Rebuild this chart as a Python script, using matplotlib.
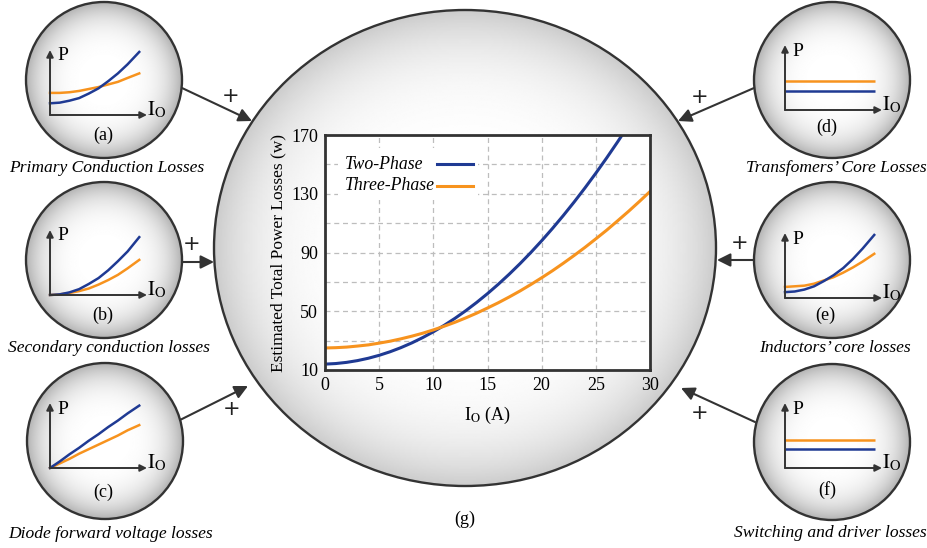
import numpy as np
import matplotlib
matplotlib.use('Agg')
import matplotlib.pyplot as plt
from matplotlib.patches import Ellipse, Rectangle

plt.rcParams['font.family'] = 'Liberation Serif'
plt.rcParams['mathtext.fontset'] = 'stix'

# main chart: estimated total power losses (W) vs output current (A)
io_two = list(range(0, 29))
two_phase = [14.0, 14.4, 15.2, 16.4, 18.0, 20.0, 22.4, 25.2, 28.4, 32.0,
             36.0, 40.4, 45.2, 50.4, 56.0, 62.0, 68.4, 75.2, 82.4, 90.0,
             98.0, 106.4, 115.2, 124.4, 134.0, 144.0, 154.4, 165.2, 176.4]
io_three = list(range(0, 31))
three_phase = [25.0, 25.2, 25.6, 26.3, 27.1, 28.3, 29.6, 31.2, 33.0, 35.0,
               37.3, 39.8, 42.5, 45.5, 48.7, 52.2, 55.8, 59.7, 63.8, 68.2,
               72.8, 77.6, 82.7, 88.0, 93.5, 99.3, 105.2, 111.5, 117.9, 124.6,
               131.5]
series_names = ['Two-Phase', 'Three-Phase']
x_ticks = [0, 5, 10, 15, 20, 25, 30]
y_ticks = [10, 50, 90, 130, 170]
y_minor = [30, 70, 110, 150]

# small sketch charts (normalised shapes)
mini_x = [0, .1, .2, .3, .4, .5, .6, .7, .8, .92]
a_blue = [.18, .19, .22, .26, .33, .41, .52, .64, .78, .97]
a_orange = [.34, .34, .35, .37, .40, .43, .47, .51, .57, .64]
b_blue = [0, .01, .04, .09, .17, .26, .38, .52, .67, .89]
b_orange = [0, .01, .03, .06, .10, .16, .23, .31, .41, .54]
c_blue = [0, .10, .21, .31, .42, .52, .63, .73, .84, .96]
c_orange = [0, .07, .14, .22, .29, .36, .43, .50, .58, .66]
e_blue = [.09, .10, .13, .18, .26, .35, .46, .60, .76, .97]
e_orange = [.17, .18, .19, .22, .27, .32, .39, .47, .56, .68]
d_levels = [.30, .45]   # blue, orange
f_levels = [.29, .43]

captions = ['Primary Conduction Losses', 'Secondary conduction losses',
            'Diode forward voltage losses', 'Transfomers\u2019 Core Losses',
            'Inductors\u2019 core losses', 'Switching and driver losses']
tags = ['(a)', '(b)', '(c)', '(d)', '(e)', '(f)']

BLUE = '#1f3a93'
ORANGE = '#f7931e'
DARK = '#333333'
W, H = 928, 548

fig = plt.figure(figsize=(W / 100, H / 100), dpi=100)
bg = fig.add_axes([0, 0, 1, 1])
bg.axis('off')


def px_axes(x0, y0, w, h):
    # x0, y0 = lower-left corner in picture pixels (y from the top)
    return fig.add_axes([x0 / W, 1 - y0 / H, w / W, h / H])


def shaded_circle(cx, cy, rx, ry, depth, power):
    yy, xx = np.mgrid[-1:1:300j, -1:1:300j]
    r = np.clip(np.sqrt(xx ** 2 + yy ** 2), 0, 1)
    img = 1 - depth * r ** power
    im = bg.imshow(img, cmap='gray', vmin=0, vmax=1, aspect='auto',
                   extent=(cx - rx, cx + rx, cy + ry, cy - ry),
                   interpolation='bilinear')
    e = Ellipse((cx, cy), 2 * rx, 2 * ry, fc='none', ec=DARK, lw=1.7)
    bg.add_patch(e)
    im.set_clip_path(e)


# circles
shaded_circle(465, 248, 251, 238, 0.20, 5)
centers = [(104, 80), (104, 260), (105, 441), (832, 80), (832, 260), (832, 442)]
for cx, cy in centers:
    shaded_circle(cx, cy, 78, 78, 0.30, 4)

# arrows into the big circle
arrows = [((182, 88), (252, 121)), ((182, 262), (214, 262)), ((180, 420), (248, 386)),
          ((754, 88), (678, 121)), ((754, 260), (717, 260)), ((755, 422), (681, 388))]
for start, tip in arrows:
    bg.annotate('', xy=tip, xytext=start,
                arrowprops=dict(arrowstyle='-|>', color=DARK, lw=1.5,
                                mutation_scale=20, shrinkA=0, shrinkB=0))
for px, py in [(231, 96), (192, 244), (232, 409), (700, 97), (740, 243), (700, 413)]:
    bg.text(px, py, '+', fontsize=15, ha='center', va='center', color='#222222',
            family='DejaVu Sans')

# mini sketch charts
origins = [(50, 115), (50, 295), (50, 468), (785, 110), (785, 298), (785, 468)]
tag_pos = [(103, 135), (103, 315), (103, 492), (827, 127), (825, 315), (827, 490)]
curves = [(a_blue, a_orange), (b_blue, b_orange), (c_blue, c_orange),
          None, (e_blue, e_orange), None]
levels = [None, None, None, d_levels, None, f_levels]
for i, (x0, y0) in enumerate(origins):
    m = px_axes(x0, y0, 97, 65)
    m.set_xlim(0, 1)
    m.set_ylim(0, 1)
    m.axis('off')
    for xy in [(1, 0), (0, 1)]:
        m.annotate('', xy=xy, xytext=(0, 0), xycoords='axes fraction',
                   arrowprops=dict(arrowstyle='-|>', color=DARK, lw=1.4,
                                   mutation_scale=10, shrinkA=0, shrinkB=0))
    if curves[i] is not None:
        m.plot(mini_x, curves[i][1], color=ORANGE, lw=1.8, clip_on=False)
        m.plot(mini_x, curves[i][0], color=BLUE, lw=1.8, clip_on=False)
    else:
        m.hlines(levels[i][1], 0, 0.93, color=ORANGE, lw=1.8)
        m.hlines(levels[i][0], 0, 0.93, color=BLUE, lw=1.8)
    bg.text(x0 + 7, y0 - 59, 'P', fontsize=14, ha='left', va='center')
    bg.text(x0 + 97, y0 - 5, r'$\mathrm{I}_\mathrm{O}$', fontsize=15, ha='left', va='center')
    bg.text(tag_pos[i][0], tag_pos[i][1], tags[i], fontsize=13, ha='center', va='center')

caption_pos = [(107, 168, 'center'), (109, 348, 'center'), (111, 534, 'center'),
               (927, 168, 'right'), (835, 348, 'center'), (927, 533, 'right')]
for (px, py, ha), txt in zip(caption_pos, captions):
    bg.text(px, py, txt, fontsize=12.6, style='italic', ha=ha, va='center')
bg.text(465, 519, '(g)', fontsize=13, ha='center', va='center')

bg.set_xlim(0, W)
bg.set_ylim(H, 0)

# main chart
ax = px_axes(325, 370, 325, 235)
ax.set_facecolor('white')
ax.plot(io_two, two_phase, color=BLUE, lw=2.2)
ax.plot(io_three, three_phase, color=ORANGE, lw=2.2)
ax.set_xlim(0, 30)
ax.set_ylim(10, 170)
ax.set_xticks(x_ticks)
ax.set_yticks(y_ticks)
ax.set_yticks(y_minor, minor=True)
ax.grid(True, which='both', ls=(0, (4, 3)), color='#bdbdbd', lw=0.9)
ax.tick_params(which='both', length=0, labelsize=13, pad=5)
for s in ax.spines.values():
    s.set_linewidth(2)
    s.set_color(DARK)
ax.set_ylabel('Estimated Total Power Losses (w)', fontsize=12.5, labelpad=3)
ax.set_xlabel(r'I$_\mathrm{O}$ (A)', fontsize=13, labelpad=8)

# legend: labels left-aligned, line keys to the right
ax.add_patch(Rectangle((0.04, 0.725), 0.43, 0.22, transform=ax.transAxes,
                       fc='white', ec='none', zorder=2))
for name, color, ty in zip(series_names, [BLUE, ORANGE], [0.876, 0.783]):
    ax.text(0.06, ty, name, transform=ax.transAxes, fontsize=12.8, style='italic',
            ha='left', va='center', zorder=3)
    ax.plot([0.345, 0.455], [ty, ty], transform=ax.transAxes, color=color, lw=2.2,
            zorder=3)

fig.savefig('out.png', dpi=100)
